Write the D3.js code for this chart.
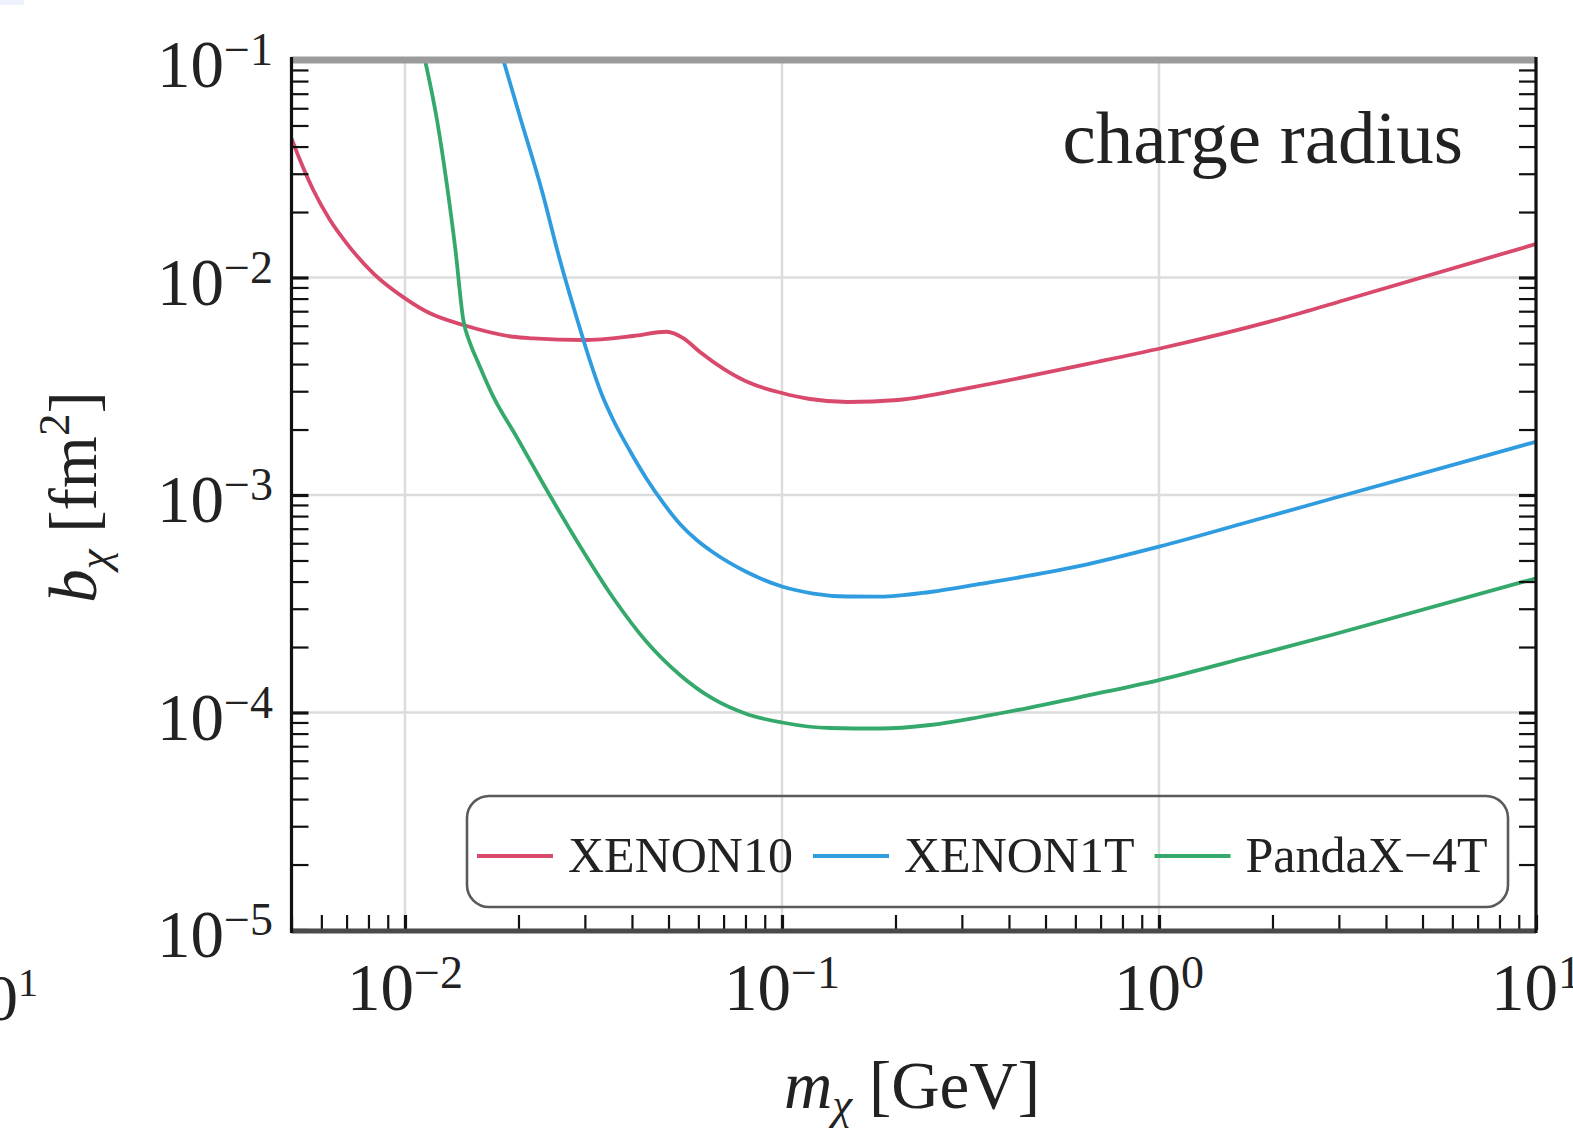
<!DOCTYPE html>
<html>
<head>
<meta charset="utf-8">
<script src="https://cdn.jsdelivr.net/npm/d3@7"></script>
<style>
  body { margin: 0; background: #fff; }
  svg { display: block; font-family: "Liberation Serif", "Times New Roman", serif; }
</style>
</head>
<body>
<svg id="chart" width="1573" height="1129"></svg>
<script>
// Dark-matter mass m_chi [GeV] and charge-radius bound b_chi [fm^2] per experiment
const xenon10Mass = [0.0050, 0.005266, 0.005711, 0.006325, 0.007004, 0.008240, 0.0100, 0.01165, 0.01428, 0.01938,
                     0.02189, 0.02971, 0.04031, 0.04944, 0.05471, 0.06059, 0.07017, 0.08226, 0.100, 0.1187,
                     0.1496, 0.2031, 0.3192, 0.6846, 1.0186, 2.133, 3.113, 10.0];
const xenon10B    = [0.04365, 0.03469, 0.02525, 0.01838, 0.01436, 0.01045, 0.008022, 0.006845, 0.006046, 0.005341,
                     0.005254, 0.005160, 0.005383, 0.005632, 0.005270, 0.004545, 0.003795, 0.003272, 0.002944, 0.002763,
                     0.002677, 0.002734, 0.003128, 0.004088, 0.004741, 0.006515, 0.007880, 0.01426];

const xenon1tMass = [0.01823, 0.02018, 0.02305, 0.02562, 0.02883, 0.03096, 0.03323, 0.03568, 0.03952, 0.04377,
                     0.04842, 0.05362, 0.05939, 0.06574, 0.08058, 0.100, 0.1211, 0.1484, 0.182, 0.247,
                     0.335, 0.6172, 1.0, 1.743, 2.9, 10.0];
const xenon1tB    = [0.100, 0.05486, 0.02525, 0.01246, 0.006157, 0.004131, 0.002913, 0.002212, 0.001593, 0.001185,
                     0.000919, 0.000736, 0.000621, 0.000544, 0.0004426, 0.0003796, 0.0003524, 0.0003414, 0.0003407, 0.0003581,
                     0.0003898, 0.0004717, 0.0005785, 0.0007553, 0.000966, 0.001758];

const pandaxMass  = [0.01130, 0.01216, 0.01292, 0.01361, 0.01428, 0.01487, 0.01561, 0.01715, 0.01978, 0.02327,
                     0.02911, 0.03568, 0.04377, 0.05362, 0.06574, 0.08058, 0.100, 0.1340, 0.182, 0.247,
                     0.335, 0.4548, 0.6172, 1.0, 1.743, 2.9, 10.0];
const pandaxB     = [0.100, 0.05298, 0.02662, 0.01338, 0.006375, 0.005000, 0.004088, 0.002831, 0.001848, 0.001124,
                     0.0005828, 0.0003360, 0.0002109, 0.0001488, 0.0001154, 0.00009842, 0.00008995, 0.00008486, 0.00008441, 0.00008761,
                     0.00009535, 0.0001054, 0.0001178, 0.0001410, 0.0001809, 0.0002284, 0.000414];

const seriesNames  = ["XENON10", "XENON1T", "PandaX\u22124T"];
const seriesColors = ["#d9496c", "#2f9ce0", "#35a96b"];

const xTickExponents = [-2, -1, 0, 1];
const yTickExponents = [-5, -4, -3, -2, -1];

const panelTitle = "charge radius";

// ---- layout ----
const svg = d3.select("#chart");
const plotL = 291.5, plotR = 1536, plotT = 60, plotB = 930;

const x = d3.scaleLog().domain([5e-3, 10]).range([plotL, plotR]);
const y = d3.scaleLog().domain([1e-5, 1e-1]).range([plotB, plotT]);

// stray fragment at the top-left corner of the page
svg.append("rect").attr("x", 0).attr("y", 0).attr("width", 24).attr("height", 5).attr("fill", "#edf2fc");

// clip region for the curves
svg.append("defs").append("clipPath").attr("id", "plotClip")
  .append("rect").attr("x", plotL).attr("y", plotT).attr("width", plotR - plotL).attr("height", plotB - plotT);

// ---- grid at each decade ----
const grid = svg.append("g").attr("stroke", "#dcdcdc").attr("stroke-width", 2.5);
xTickExponents.forEach(e => {
  const v = Math.pow(10, e);
  grid.append("line").attr("x1", x(v)).attr("x2", x(v)).attr("y1", plotT).attr("y2", plotB);
});
yTickExponents.forEach(e => {
  const v = Math.pow(10, e);
  grid.append("line").attr("x1", plotL).attr("x2", plotR).attr("y1", y(v)).attr("y2", y(v));
});

// ---- curves ----
const series = [
  { m: xenon10Mass, b: xenon10B },
  { m: xenon1tMass, b: xenon1tB },
  { m: pandaxMass,  b: pandaxB }
];
const line = d3.line().x(d => x(d[0])).y(d => y(d[1])).curve(d3.curveMonotoneX);
const curves = svg.append("g").attr("clip-path", "url(#plotClip)");
series.forEach((s, i) => {
  curves.append("path")
    .datum(s.m.map((m, k) => [m, s.b[k]]))
    .attr("d", line)
    .attr("fill", "none")
    .attr("stroke", seriesColors[i])
    .attr("stroke-width", 3.8)
    .attr("stroke-linejoin", "round");
});

// ---- legend ----
const legend = svg.append("g");
legend.append("rect")
  .attr("x", 467).attr("y", 796).attr("width", 1041).attr("height", 111)
  .attr("rx", 22).attr("ry", 22)
  .attr("fill", "none").attr("stroke", "#5a5a5a").attr("stroke-width", 2.6);
let legX = 477;
const legY = 856;
seriesNames.forEach((name, i) => {
  legend.append("line").attr("x1", legX).attr("x2", legX + 76).attr("y1", legY).attr("y2", legY)
    .attr("stroke", seriesColors[i]).attr("stroke-width", 4);
  const t = legend.append("text").attr("x", legX + 91).attr("y", legY + 16)
    .attr("font-size", 50).attr("fill", "#222").text(name);
  legX = legX + 91 + t.node().getComputedTextLength() + 20;
});

// ---- panel title ----
svg.append("text").attr("x", 1463).attr("y", 163).attr("text-anchor", "end")
  .attr("font-size", 75).attr("fill", "#222").text(panelTitle);

// ---- ticks (inward) ----
const tickStyle = g => {
  g.select(".domain").remove();
  g.selectAll(".tick line").attr("stroke", "#111").attr("stroke-width", 2.2);
};
const isDecade = v => Math.abs(Math.log10(v) - Math.round(Math.log10(v))) < 1e-9;

svg.append("g").attr("transform", `translate(${plotL},0)`)
  .call(d3.axisRight(y).tickValues(y.ticks()).tickSize(17).tickFormat(""))
  .call(tickStyle);
svg.append("g").attr("transform", `translate(${plotR},0)`)
  .call(d3.axisLeft(y).tickValues(y.ticks()).tickSize(17).tickFormat(""))
  .call(tickStyle);
svg.append("g").attr("transform", `translate(0,${plotB})`)
  .call(d3.axisTop(x).tickValues(x.ticks()).tickSize(15).tickFormat(""))
  .call(tickStyle);
svg.selectAll(".tick").filter(d => isDecade(d)).select("line").attr("stroke-width", 3.2);

// ---- frame ----
svg.append("line").attr("x1", plotL).attr("x2", plotR).attr("y1", plotT).attr("y2", plotT)
  .attr("stroke", "#9b9b9b").attr("stroke-width", 7);
svg.append("line").attr("x1", plotL).attr("x2", plotR).attr("y1", plotB + 1).attr("y2", plotB + 1)
  .attr("stroke", "#4a4a4a").attr("stroke-width", 5);
svg.append("line").attr("x1", plotL).attr("x2", plotL).attr("y1", plotT - 3).attr("y2", plotB + 3)
  .attr("stroke", "#111").attr("stroke-width", 3.2);
svg.append("line").attr("x1", plotR).attr("x2", plotR).attr("y1", plotT - 3).attr("y2", plotB + 3)
  .attr("stroke", "#111").attr("stroke-width", 3.2);

// ---- tick labels: 10^n ----
const powerLabel = (sel, e, supSize, raise) => {
  sel.append("tspan").text("10");
  sel.append("tspan").attr("font-size", supSize).attr("dy", -raise)
    .text(e < 0 ? "\u2212" + Math.abs(e) : String(e));
};
yTickExponents.forEach(e => {
  const t = svg.append("text").attr("x", 273).attr("y", y(Math.pow(10, e)) + 27)
    .attr("text-anchor", "end").attr("font-size", 67).attr("fill", "#222");
  powerLabel(t, e, 46, 22);
});
xTickExponents.forEach(e => {
  const t = svg.append("text").attr("x", x(Math.pow(10, e))).attr("y", 1010)
    .attr("text-anchor", "middle").attr("font-size", 67).attr("fill", "#222");
  powerLabel(t, e, 46, 22);
});

// cut-off label of the neighbouring panel at the page's left edge
{
  const t = svg.append("text").attr("x", -48).attr("y", 1020)
    .attr("font-size", 66).attr("fill", "#222");
  powerLabel(t, 1, 40, 24);
}

// ---- axis titles ----
const xt = svg.append("text").attr("x", 912).attr("y", 1108).attr("text-anchor", "middle")
  .attr("font-size", 67).attr("fill", "#222");
xt.append("tspan").attr("font-style", "italic").text("m");
xt.append("tspan").attr("font-style", "italic").attr("font-size", 45).attr("dy", 11).text("\u03c7");
xt.append("tspan").attr("dy", -11).text(" [GeV]");

const yt = svg.append("text").attr("transform", "translate(96,497) rotate(-90)")
  .attr("text-anchor", "middle").attr("font-size", 67).attr("fill", "#222");
yt.append("tspan").attr("font-style", "italic").text("b");
yt.append("tspan").attr("font-style", "italic").attr("font-size", 45).attr("dy", 13).text("\u03c7");
yt.append("tspan").attr("dy", -13).text(" [fm");
yt.append("tspan").attr("font-size", 45).attr("dy", -27).text("2");
yt.append("tspan").attr("dy", 27).text("]");
</script>
</body>
</html>
